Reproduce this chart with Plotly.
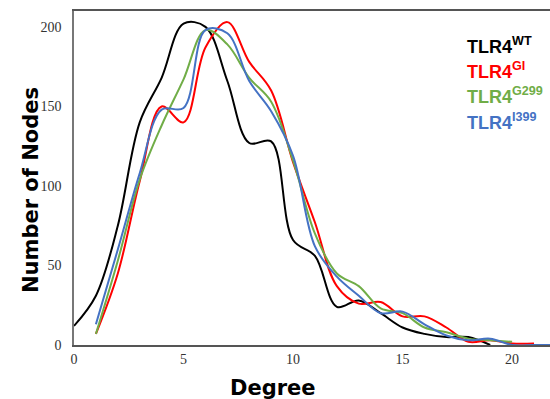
import plotly.graph_objects as go

deg_wt = list(range(0, 20))
wt = [12, 31, 75, 140, 168, 202, 200, 166, 127, 128, 66, 56, 24, 28, 20, 11, 7, 5, 5, 0]

deg_gi = list(range(1, 22))
gi = [7, 45, 103, 150, 140, 187, 203, 178, 160, 115, 77, 37, 26, 27, 18, 18, 11, 2, 3, 1, 1]

deg_g299 = list(range(1, 21))
g299 = [7, 53, 104, 138, 167, 198, 189, 168, 153, 116, 70, 45, 37, 23, 20, 11, 8, 4, 3, 2]

deg_i399 = list(range(1, 23))
i399 = [13, 60, 108, 148, 149, 198, 196, 166, 147, 119, 62, 43, 31, 20, 21, 13, 6, 3, 4, 0, 0, 0]

legend_labels = ["TLR4<sup>WT</sup>", "TLR4<sup>GI</sup>", "TLR4<sup>G299</sup>", "TLR4<sup>I399</sup>"]
colors = ["#000000", "#ff0000", "#70ad47", "#4472c4"]
xs_all = [deg_wt, deg_gi, deg_g299, deg_i399]
ys_all = [wt, gi, g299, i399]

W, H = 550, 399
l, r, t, b = 74, 0, 11, 54
pw, ph = W - l - r, H - t - b

fig = go.Figure()
for name, xs, ys, col in zip(legend_labels, xs_all, ys_all, colors):
    fig.add_trace(go.Scatter(x=xs, y=ys, mode="lines", name=name,
                             line=dict(color=col, width=2, shape="spline", smoothing=1.0),
                             showlegend=False))

for i, (name, col) in enumerate(zip(legend_labels, colors)):
    fig.add_annotation(x=(465 - l) / pw, y=1 - ((45 + i * 25.5) - t) / ph,
                       xref="paper", yref="paper",
                       text=name, showarrow=False, xanchor="left", yanchor="middle",
                       font=dict(family="Liberation Sans", size=18, color=col, weight="bold"))

# axis titles
fig.add_annotation(x=(273 - l) / pw, y=1 - (388 - t) / ph, xref="paper", yref="paper",
                   text="Degree", showarrow=False, xanchor="center", yanchor="middle",
                   font=dict(family="DejaVu Sans", size=21, color="black", weight="bold"))
fig.add_annotation(x=(31 - l) / pw, y=1 - (190 - t) / ph, xref="paper", yref="paper",
                   text="Number of Nodes", showarrow=False, xanchor="center", yanchor="middle",
                   textangle=-90,
                   font=dict(family="DejaVu Sans", size=21, color="black", weight="bold"))

fig.update_layout(
    width=W, height=H,
    margin=dict(l=l, r=r, t=t, b=b),
    paper_bgcolor="white", plot_bgcolor="white",
    xaxis=dict(range=[0, 21.73], tickvals=[0, 5, 10, 15, 20], showgrid=False, zeroline=False,
               showline=True, linecolor="#555555", linewidth=1.5, mirror=True,
               ticks="", tickfont=dict(family="Liberation Serif", size=14, color="#333333")),
    yaxis=dict(range=[0, 210], tickvals=[0, 50, 100, 150, 200], showgrid=False, zeroline=False,
               showline=True, linecolor="#777777", linewidth=1.5,
               ticks="", tickfont=dict(family="Liberation Serif", size=14, color="#333333"),
               ticklabelstandoff=8),
)

fig.write_html("out.html")
